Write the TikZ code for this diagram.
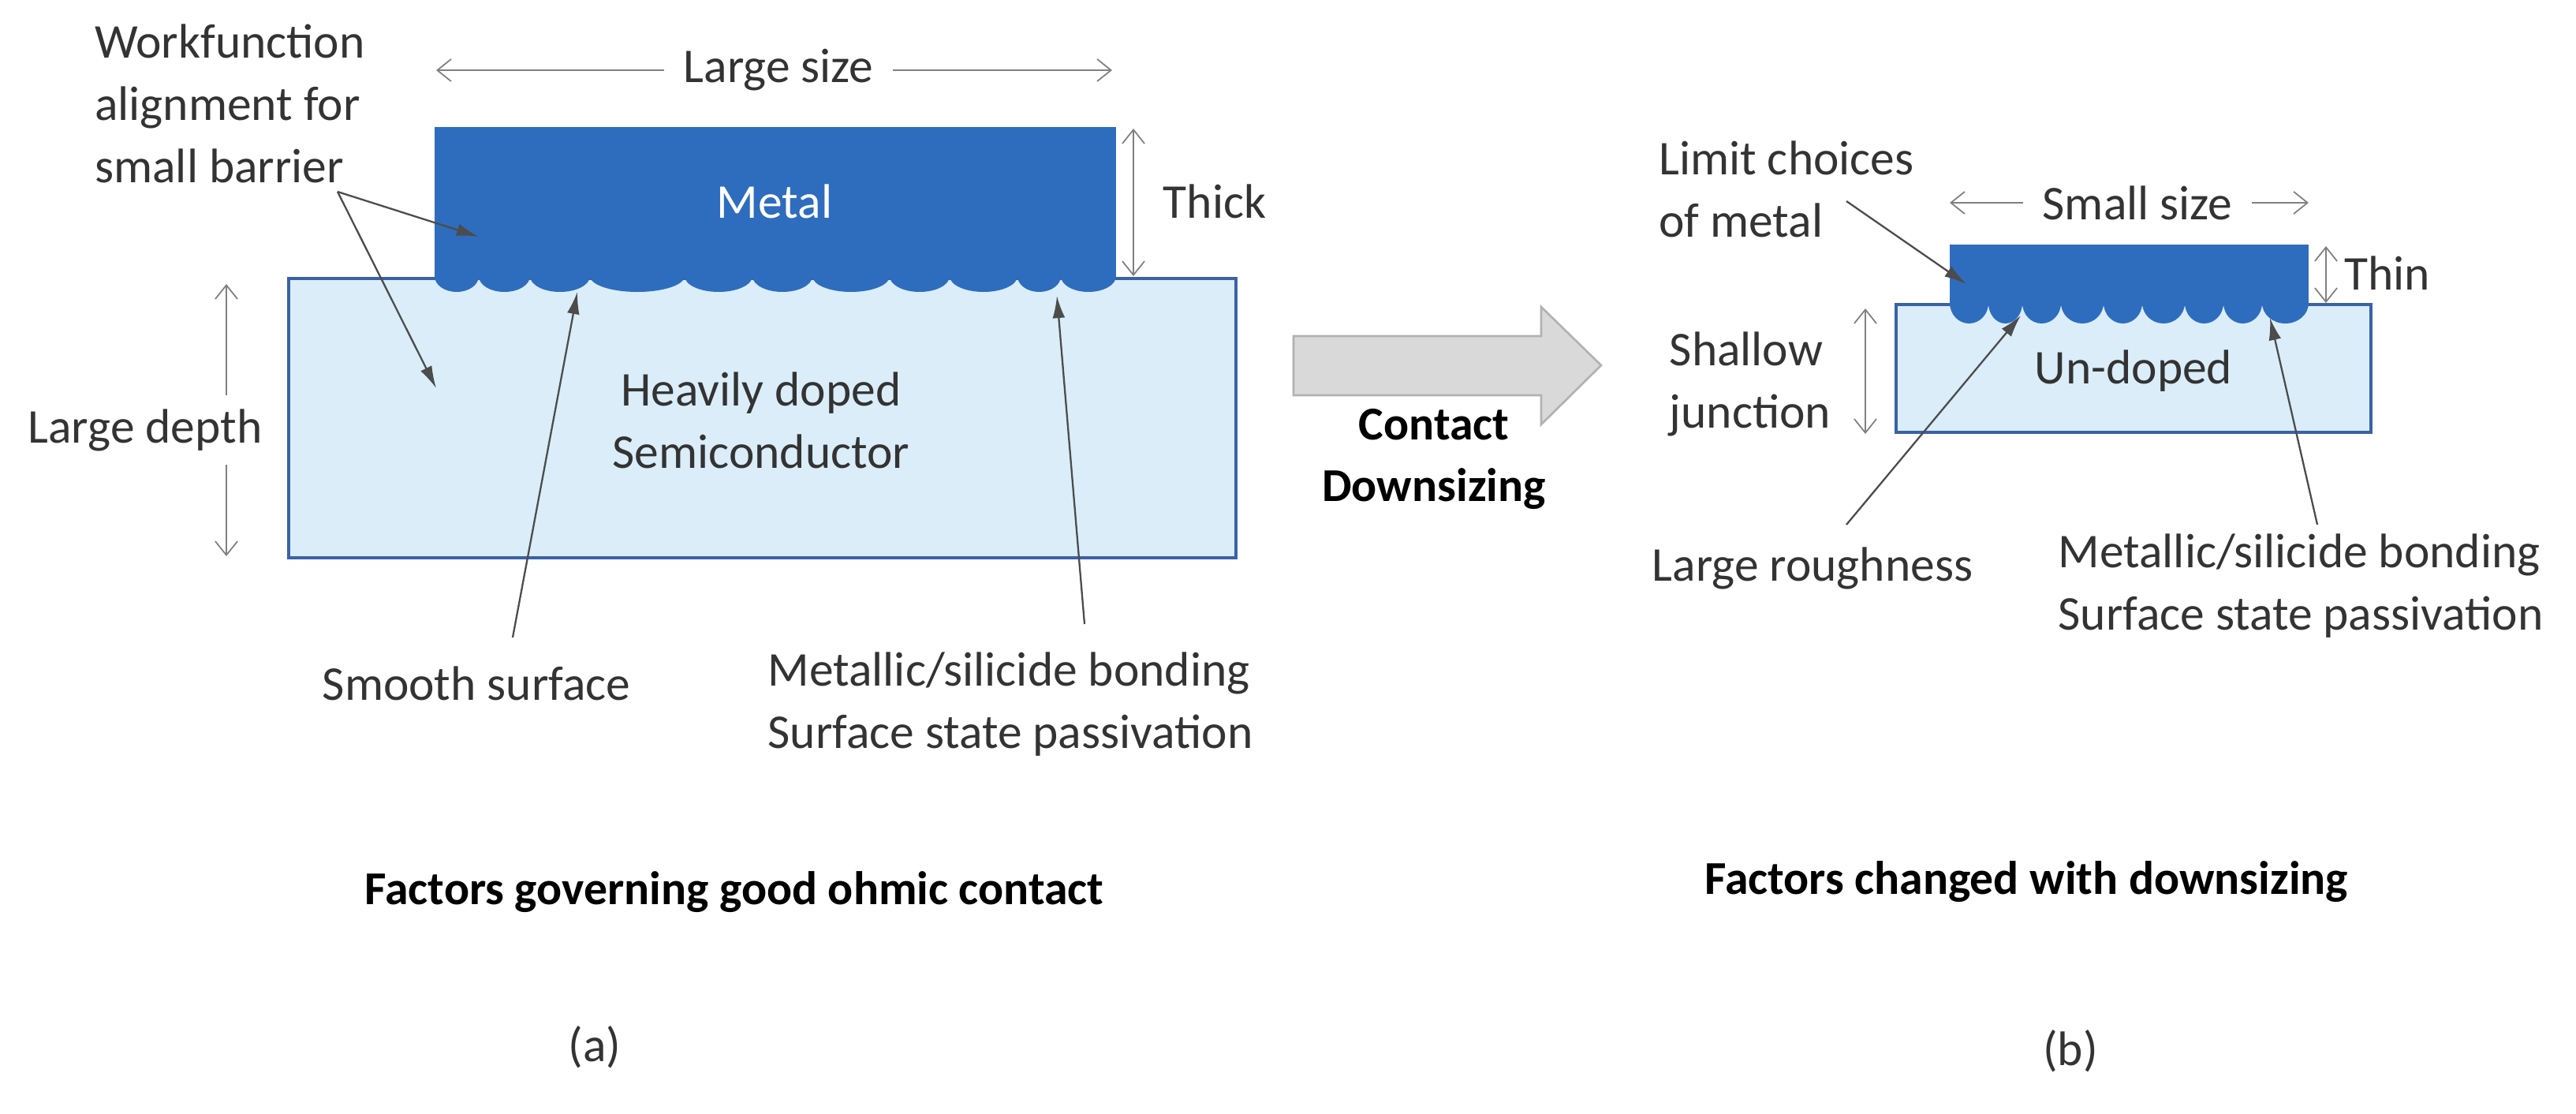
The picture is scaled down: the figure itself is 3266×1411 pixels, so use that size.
\documentclass[tikz,border=0pt]{standalone}
\usepackage{fontspec}
\setmainfont{Carlito}
\usetikzlibrary{arrows.meta}
\begin{document}
\begin{tikzpicture}[x=0.02cm,y=-0.02cm,
  txt/.style={font=\fontsize{35}{45}\selectfont,text=black!80,align=center,inner sep=0pt},
  btxt/.style={txt,font=\fontsize{34}{44}\selectfont\bfseries,text=black},
  dim/.style={draw=black!50,line width=1pt,{Straight Barb[length=10pt,width=16pt]}-{Straight Barb[length=10pt,width=16pt]}},
  lead/.style={draw=black!70,line width=1.3pt,-{Latex[length=16pt,width=9pt]}},
  metal/.style={fill=metalc,draw=none},
  semi/.style={fill=semic,draw=edgec,line width=2.5pt}]
\definecolor{metalc}{HTML}{2E6DBE}
\definecolor{semic}{HTML}{DAEDF9}
\definecolor{edgec}{HTML}{3A62A6}
\useasboundingbox[fill=white] (0,0) rectangle (3266,1411);
% ---- (a)
\draw[semi] (366,353) rectangle (1567,707);
\fill[metal] (551,161) rectangle (1415,352);
\foreach \a/\b in {551/607,607/672,672/748,748/868,868/954,954/1030,1030/1128,1128/1204,1204/1290,1290/1345,1345/1415}{
  \fill[metal] (\a,350) arc[start angle=180,end angle=0,x radius={(\b-\a)/2},y radius=20];}
\node[txt,text=white] (metal) at (982,255) {Metal};
\node[txt] (semi) at (965,533) {Heavily doped\\Semiconductor};
\coordinate (ls1) at (553,89); \coordinate (ls2) at (1410,89);
\draw[dim] (ls1) -- (ls2);
\node[txt,fill=white,inner xsep=14pt,inner ysep=4pt] (lsize) at (987,89) {Large size};
\coordinate (th1) at (1437,163); \coordinate (th2) at (1437,350);
\draw[dim] (th1) -- (th2);
\node[txt] (thick) at (1540,255) {Thick};
\coordinate (ld1) at (287,360); \coordinate (ld2) at (287,705);
\draw[dim] (ld1) -- (ld2);
\node[txt,fill=white,inner ysep=10pt] (ldepth) at (184,545) {Large depth};
\node[txt,align=left,anchor=west] (wf) at (120,131) {Workfunction\\alignment for\\small barrier};
\coordinate (wfa) at (428,243);
\coordinate (wfb) at (607,300); \coordinate (wfc) at (553,492);
\draw[lead] (wfa) -- (wfb); \draw[lead] (wfa) -- (wfc);
\node[txt] (smooth) at (604,866) {Smooth surface};
\coordinate (sma) at (650,808); \coordinate (smb) at (732,370);
\draw[lead] (sma) -- (smb);
\node[txt,align=left] (bond) at (1281,893) {Metallic/silicide bonding\\Surface state passivation};
\coordinate (bda) at (1375,791); \coordinate (bdb) at (1340,375);
\draw[lead] (bda) -- (bdb);
\node[btxt] (capa) at (931,1131) {Factors governing good ohmic contact};
\node[txt] (a) at (754,1327) {(a)};
% ---- arrow
\draw[fill=black!15,draw=black!30,line width=1.5pt] (1640,426) -- (1954,426) -- (1954,389) -- (2030,463) -- (1954,538) -- (1954,501) -- (1640,501) -- cycle;
\node[btxt] (down) at (1818,582) {Contact\\Downsizing};
% ---- (b)
\draw[semi] (2404,386) rectangle (3006,548);
\fill[metal] (2472,310) rectangle (2927,386);
\foreach \a/\b in {2472/2521,2521/2564,2564/2613,2613/2667,2667/2716,2716/2770,2770/2819,2819/2868,2868/2927}{
  \fill[metal] (\a,384) arc[start angle=180,end angle=0,x radius={(\b-\a)/2},y radius=26];}
\node[txt] (undoped) at (2705,470) {Un-doped};
\coordinate (ss1) at (2472,257); \coordinate (ss2) at (2927,257);
\draw[dim] (ss1) -- (ss2);
\node[txt,fill=white,inner xsep=14pt,inner ysep=4pt] (ssize) at (2710,257) {Small size};
\coordinate (tn1) at (2949,312); \coordinate (tn2) at (2949,384);
\draw[dim] (tn1) -- (tn2);
\node[txt,anchor=west] (thin) at (2972,346) {Thin};
\coordinate (sj1) at (2365,391); \coordinate (sj2) at (2365,550);
\draw[dim] (sj1) -- (sj2);
\node[txt,align=left] (shallow) at (2219,487) {Shallow\\junction};
\node[txt,align=left,anchor=west] (limit) at (2103,240) {Limit choices\\of metal};
\coordinate (lma) at (2341,255); \coordinate (lmb) at (2493,360);
\draw[lead] (lma) -- (lmb);
\node[txt] (rough) at (2298,720) {Large roughness};
\coordinate (rga) at (2341,665); \coordinate (rgb) at (2562,400);
\draw[lead] (rga) -- (rgb);
\node[txt,align=left] (bondb) at (2917,743) {Metallic/silicide bonding\\Surface state passivation};
\coordinate (bba) at (2938,665); \coordinate (bbb) at (2878,403);
\draw[lead] (bba) -- (bbb);
\node[btxt] (capb) at (2569,1118) {Factors changed with downsizing};
\node[txt] (b) at (2625,1332) {(b)};
\end{tikzpicture}
\end{document}
